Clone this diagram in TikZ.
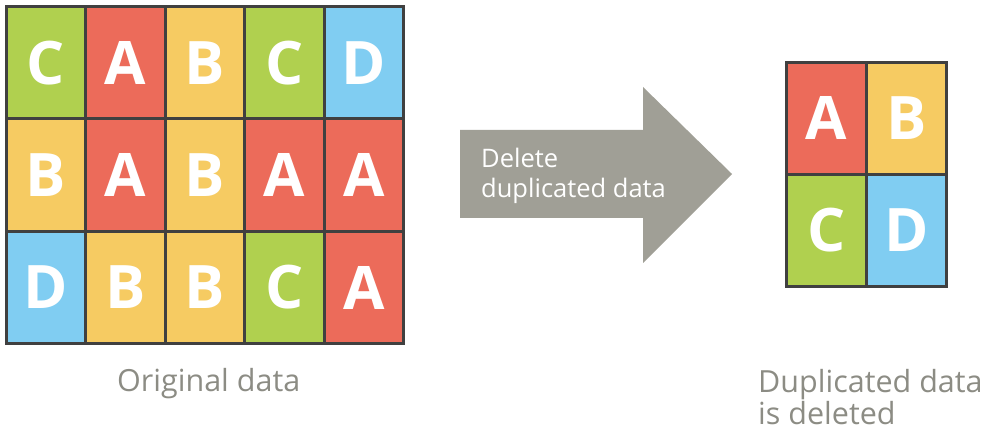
\documentclass[tikz,border=0pt]{standalone}
\usepackage{fontspec}
\setmainfont{Open Sans}
\usetikzlibrary{positioning,calc}
\definecolor{cellA}{HTML}{EC6B5A}
\definecolor{cellB}{HTML}{F6CB62}
\definecolor{cellC}{HTML}{B0D04F}
\definecolor{cellD}{HTML}{80CDF2}
\definecolor{gridline}{HTML}{404040}
\definecolor{arrowgray}{HTML}{A09F96}
\definecolor{labelgray}{HTML}{8C8C84}
\tikzset{
  cell/.style={draw=gridline, line width=3pt, inner sep=0pt, outer sep=0pt,
    minimum width=79.6pt, minimum height=112.3pt, text=white,
    font=\fontsize{60}{60}\selectfont\bfseries},
  A/.style={cell, fill=cellA},
  B/.style={cell, fill=cellB},
  C/.style={cell, fill=cellC},
  D/.style={cell, fill=cellD},
  caption/.style={anchor=base west, inner sep=0pt, text=labelgray, align=left,
    font=\fontsize{30.5}{32}\selectfont}
}
\begin{document}
\begin{tikzpicture}[x=1pt,y=1pt]
  \useasboundingbox (0,0) rectangle (990,433);
  % original data
  \node (c11) [C] at (46,370) {C};
  \node (c12) [A] at (125.5,370) {A};
  \node (c13) [B] at (205,370) {B};
  \node (c14) [C] at (284.5,370) {C};
  \node (c15) [D] at (364,370) {D};
  \node (c21) [B] at (46,258) {B};
  \node (c22) [A] at (125.5,258) {A};
  \node (c23) [B] at (205,258) {B};
  \node (c24) [A] at (284.5,258) {A};
  \node (c25) [A] at (364,258) {A};
  \node (c31) [D] at (46,145.5) {D};
  \node (c32) [B] at (125.5,145.5) {B};
  \node (c33) [B] at (205,145.5) {B};
  \node (c34) [C] at (284.5,145.5) {C};
  \node (c35) [A] at (364,145.5) {A};

  % arrow
  \fill [arrowgray] (460,303) -- (643,303) -- (643,346) -- (732,259)
    -- (643,170) -- (643,215) -- (460,215) -- cycle;
  \node (del) [anchor=base west, inner sep=0pt, text=white, align=left,
    font=\fontsize{25.5}{30}\selectfont] at (481,235) {Delete\\duplicated data};

  % deduplicated data
  \node (dA) [A] at (826.5,314.5) {A};
  \node (dB) [B] at (906.5,314.5) {B};
  \node (dC) [C] at (826.5,202.5) {C};
  \node (dD) [D] at (906.5,202.5) {D};

  \node (orig) [caption] at (117,41) {Original data};
  \node (dedup) [caption] at (758,8) {Duplicated data\\is deleted};
\end{tikzpicture}
\end{document}
